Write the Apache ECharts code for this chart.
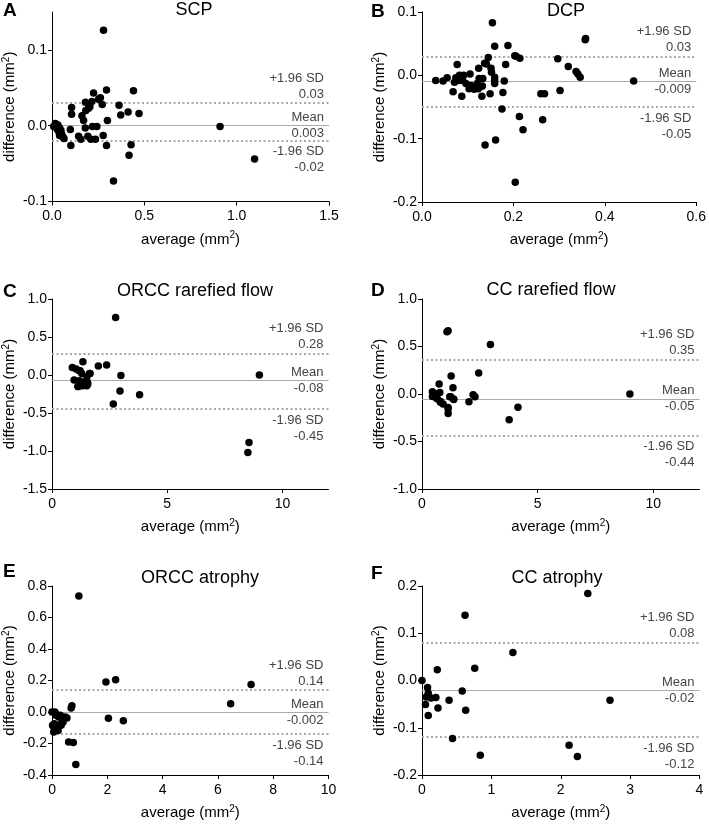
<!DOCTYPE html>
<html>
<head>
<meta charset="utf-8">
<script src="https://cdn.jsdelivr.net/npm/echarts@6/dist/echarts.min.js"></script>
<style>
html,body{margin:0;padding:0;background:#fff;}
#chart{width:709px;height:824px;}
</style>
</head>
<body>
<div id="chart"></div>
<script>
// ---------- DATA (average, difference) ----------
var pointsA = [[0.279,0.126],[0.295,0.047],[0.441,0.046],[0.225,0.043],[0.262,0.037],[0.252,0.035],[0.181,0.031],[0.216,0.032],[0.272,0.028],[0.363,0.027],[0.106,0.024],[0.205,0.025],[0.198,0.023],[0.183,0.020],[0.106,0.015],[0.412,0.018],[0.471,0.016],[0.372,0.014],[0.162,0.013],[0.171,0.007],[0.300,0.007],[0.219,-0.001],[0.243,-0.001],[0.180,-0.003],[0.099,-0.005],[0.018,0.003],[0.032,0.001],[0.009,-0.001],[0.041,-0.003],[0.029,-0.005],[0.048,-0.006],[0.038,-0.009],[0.052,-0.011],[0.059,-0.015],[0.041,-0.013],[0.065,-0.017],[0.144,-0.014],[0.156,-0.018],[0.194,-0.014],[0.210,-0.018],[0.235,-0.018],[0.277,-0.013],[0.295,-0.026],[0.102,-0.026],[0.428,-0.025],[0.417,-0.039],[0.333,-0.073],[0.910,-0.001],[1.097,-0.044]];
var pointsB = [[0.154,0.083],[0.159,0.046],[0.188,0.047],[0.145,0.028],[0.203,0.031],[0.206,0.030],[0.214,0.027],[0.297,0.026],[0.320,0.014],[0.337,0.006],[0.341,0.002],[0.346,-0.003],[0.357,0.056],[0.358,0.058],[0.463,-0.009],[0.077,0.017],[0.137,0.019],[0.141,0.018],[0.183,0.017],[0.124,0.011],[0.151,0.011],[0.152,0.005],[0.159,-0.003],[0.030,-0.008],[0.046,-0.009],[0.055,-0.004],[0.074,-0.004],[0.082,0.000],[0.091,0.000],[0.105,0.002],[0.071,-0.011],[0.082,-0.008],[0.089,-0.008],[0.096,-0.013],[0.107,-0.016],[0.114,-0.018],[0.121,-0.013],[0.128,-0.018],[0.133,-0.005],[0.125,-0.005],[0.103,-0.021],[0.114,-0.022],[0.123,-0.021],[0.132,-0.017],[0.068,-0.026],[0.087,-0.033],[0.131,-0.033],[0.149,-0.029],[0.177,-0.027],[0.159,-0.013],[0.180,-0.009],[0.159,-0.008],[0.260,-0.029],[0.268,-0.029],[0.302,-0.024],[0.175,-0.053],[0.213,-0.065],[0.264,-0.070],[0.221,-0.086],[0.138,-0.110],[0.161,-0.102],[0.204,-0.169]];
var pointsC = [[2.76,0.758],[9.0,0.0],[2.99,-0.005],[2.95,-0.21],[3.80,-0.26],[2.66,-0.38],[8.55,-0.887],[8.50,-1.02],[1.34,0.175],[2.01,0.12],[2.37,0.13],[0.88,0.10],[1.05,0.08],[1.22,0.057],[1.29,0.02],[1.63,0.02],[1.51,-0.022],[0.96,-0.066],[1.19,-0.075],[1.37,-0.097],[1.54,-0.097],[1.15,-0.15],[1.34,-0.14],[1.51,-0.14],[1.18,0.057],[1.65,0.02],[1.55,-0.12],[1.12,-0.15]];
var pointsD = [[1.08,0.656],[1.13,0.666],[2.96,0.522],[2.45,0.22],[1.26,0.19],[0.74,0.105],[1.34,0.066],[0.45,0.024],[0.59,0.0],[0.77,0.017],[1.20,-0.028],[1.37,-0.057],[2.21,-0.007],[2.29,-0.028],[2.03,-0.081],[0.62,-0.042],[0.80,-0.078],[0.91,-0.105],[1.13,-0.141],[4.15,-0.14],[3.77,-0.27],[8.99,0.0],[1.13,-0.204],[1.13,-0.158],[0.80,-0.088],[0.45,-0.025],[0.67,-0.053],[1.24,-0.028],[1.37,-0.053]];
var pointsE = [[0.97,0.737],[1.95,0.19],[2.30,0.205],[7.20,0.175],[6.46,0.053],[2.04,-0.040],[2.58,-0.055],[0.86,-0.334],[0.60,-0.19],[0.77,-0.194],[0.69,0.025],[0.72,0.04],[0.0,0.0],[0.10,0.0],[0.14,-0.021],[0.24,-0.032],[0.40,-0.063],[0.54,-0.038],[0.02,-0.084],[0.18,-0.084],[0.33,-0.084],[0.06,-0.127],[0.22,-0.118],[0.12,-0.006],[0.30,-0.021],[0.48,-0.032],[0.08,-0.074],[0.36,-0.063],[0.04,-0.089]];
var pointsF = [[2.39,0.184],[0.62,0.138],[1.31,0.059],[0.76,0.026],[0.22,0.023],[0.0,0.0],[0.08,-0.015],[0.09,-0.027],[0.58,-0.022],[2.71,-0.042],[0.39,-0.042],[0.63,-0.063],[0.23,-0.058],[0.05,-0.051],[0.09,-0.074],[0.44,-0.123],[0.84,-0.158],[2.12,-0.137],[2.24,-0.161],[0.06,-0.035],[0.13,-0.037],[0.20,-0.036]];

// Bland-Altman lines [upper, mean, lower] and their printed values
var linesA = [0.029, 0.003, -0.023];  var linesTextA = ['0.03', '0.003', '-0.02'];
var linesB = [0.030, -0.0085, -0.050]; var linesTextB = ['0.03', '-0.009', '-0.05'];
var linesC = [0.276, -0.075, -0.447]; var linesTextC = ['0.28', '-0.08', '-0.45'];
var linesD = [0.358, -0.049, -0.436]; var linesTextD = ['0.35', '-0.05', '-0.44'];
var linesE = [0.144, -0.002, -0.143]; var linesTextE = ['0.14', '-0.002', '-0.14'];
var linesF = [0.081, -0.020, -0.121]; var linesTextF = ['0.08', '-0.02', '-0.12'];

// Titles and panel letters
var titles = ['SCP', 'DCP', 'ORCC rarefied flow', 'CC rarefied flow', 'ORCC atrophy', 'CC atrophy'];
var letters = ['A', 'B', 'C', 'D', 'E', 'F'];

// Tick values
var xTicksA = [0, 0.5, 1.0, 1.5];   var yTicksA = [-0.1, 0, 0.1];
var xTicksB = [0, 0.2, 0.4, 0.6];   var yTicksB = [-0.2, -0.1, 0, 0.1];
var xTicksC = [0, 5, 10];           var yTicksC = [-1.5, -1.0, -0.5, 0, 0.5, 1.0];
var xTicksD = [0, 5, 10];           var yTicksD = [-1.0, -0.5, 0, 0.5, 1.0];
var xTicksE = [0, 2, 4, 6, 8, 10];  var yTicksE = [-0.4, -0.2, 0, 0.2, 0.4, 0.6, 0.8];
var xTicksF = [0, 1, 2, 3, 4];      var yTicksF = [-0.2, -0.1, 0, 0.1, 0.2];

// Axis ranges [min, max]
var xRangeA = [0, 1.5];  var yRangeA = [-0.1, 0.15];
var xRangeB = [0, 0.6];  var yRangeB = [-0.2, 0.1];
var xRangeC = [0, 12];   var yRangeC = [-1.5, 1.0];
var xRangeD = [0, 12];   var yRangeD = [-1.0, 1.0];
var xRangeE = [0, 10];   var yRangeE = [-0.4, 0.8];
var xRangeF = [0, 4];    var yRangeF = [-0.2, 0.2];

// ---------- LAYOUT ----------
var FONT = '"Liberation Sans", Arial, Helvetica, sans-serif';
var grids = [
  {left: 51, top: 12, width: 278, height: 189.5},
  {left: 422, top: 12, width: 277.5, height: 190},
  {left: 50, top: 299, width: 278.5, height: 190},
  {left: 422, top: 299, width: 277.5, height: 190},
  {left: 50, top: 586, width: 278.5, height: 189},
  {left: 422, top: 586, width: 277.5, height: 189}
];
var titlePos = [[194, 1], [566, 2], [195, 282], [551, 281], [200, 569], [557, 569]];
var letterPos = [[3, 1], [371, 2], [3, 282], [371, 281], [3, 562], [371, 564]];
var xDecimals = [1, 1, 0, 0, 0, 0];
var yDecimals = [1, 1, 1, 1, 1, 1];

var allPoints = [pointsA, pointsB, pointsC, pointsD, pointsE, pointsF];
var allLines = [linesA, linesB, linesC, linesD, linesE, linesF];
var allLinesText = [linesTextA, linesTextB, linesTextC, linesTextD, linesTextE, linesTextF];
var allXTicks = [xTicksA, xTicksB, xTicksC, xTicksD, xTicksE, xTicksF];
var allYTicks = [yTicksA, yTicksB, yTicksC, yTicksD, yTicksE, yTicksF];
var allXRange = [xRangeA, xRangeB, xRangeC, xRangeD, xRangeE, xRangeF];
var allYRange = [yRangeA, yRangeB, yRangeC, yRangeD, yRangeE, yRangeF];

var option = {
  backgroundColor: '#fff',
  animation: false,
  title: [], grid: [], xAxis: [], yAxis: [], series: []
};

var labelBase = {color: '#444', fontSize: 13, fontFamily: FONT, lineHeight: 16};
var dotted = {color: '#a8a8a8', width: 2, type: [2, 2.5]};
var solid = {color: '#aaaaaa', width: 1, type: 'solid'};
var hidden = {color: 'rgba(255,255,255,0)', width: 1, type: 'solid'};
var nameRich = {
  sup: {fontFamily: FONT, fontSize: 10, color: '#000', verticalAlign: 'top', lineHeight: 18}
};

for (var i = 0; i < 6; i++) {
  option.grid.push(grids[i]);
  option.title.push({
    text: titles[i], left: titlePos[i][0], top: titlePos[i][1], textAlign: 'center', padding: 0,
    textStyle: {fontFamily: FONT, fontSize: 18, fontWeight: 'normal', color: '#000'}
  });
  option.title.push({
    text: letters[i], left: letterPos[i][0], top: letterPos[i][1], padding: 0,
    textStyle: {fontFamily: FONT, fontSize: 19, fontWeight: 'bold', color: '#000'}
  });
  (function (i) {
    var axisCommon = {
      axisLine: {show: true, onZero: false, lineStyle: {color: '#000', width: 1}},
      axisTick: {show: true, length: 4, lineStyle: {color: '#000', width: 1}},
      splitLine: {show: false},
      nameLocation: 'middle',
      nameTextStyle: {fontFamily: FONT, fontSize: 15, color: '#000', lineHeight: 18, rich: nameRich}
    };
    option.xAxis.push(Object.assign({}, axisCommon, {
      type: 'value', gridIndex: i,
      min: allXRange[i][0], max: allXRange[i][1],
      name: 'average (mm{sup|2})', nameGap: 29,
      axisTick: Object.assign({}, axisCommon.axisTick, {customValues: allXTicks[i]}),
      axisLabel: {customValues: allXTicks[i], fontFamily: FONT, fontSize: 14, color: '#000', margin: 8,
        formatter: function (v) { return Number(v).toFixed(xDecimals[i]); }}
    }));
    option.yAxis.push(Object.assign({}, axisCommon, {
      type: 'value', gridIndex: i,
      min: allYRange[i][0], max: allYRange[i][1],
      name: 'difference (mm{sup|2})', nameGap: 28,
      axisTick: Object.assign({}, axisCommon.axisTick, {customValues: allYTicks[i]}),
      axisLabel: {customValues: allYTicks[i], fontFamily: FONT, fontSize: 14, color: '#000', margin: 5,
        formatter: function (v) { return Number(v).toFixed(yDecimals[i]); }}
    }));
    var L = allLines[i], T = allLinesText[i];
    option.series.push({
      type: 'scatter', xAxisIndex: i, yAxisIndex: i,
      data: allPoints[i], symbol: 'circle', symbolSize: 7.5,
      itemStyle: {color: '#000', opacity: 1}, z: 3,
      markLine: {
        silent: true, symbol: ['none', 'none'], z: 2,
        data: [
          {yAxis: L[0], lineStyle: dotted,
           label: Object.assign({}, labelBase, {position: 'insideEndTop', distance: [5, 1], formatter: '+1.96 SD\n' + T[0]})},
          {yAxis: L[1], lineStyle: solid,
           label: Object.assign({}, labelBase, {position: 'insideEndTop', distance: [5, 0], formatter: 'Mean'})},
          {yAxis: L[1], lineStyle: hidden,
           label: Object.assign({}, labelBase, {position: 'insideEndBottom', distance: [5, 0], formatter: T[1]})},
          {yAxis: L[2], lineStyle: dotted,
           label: Object.assign({}, labelBase, {position: 'insideEndBottom', distance: [5, 3], formatter: '-1.96 SD\n' + T[2]})}
        ]
      }
    });
  })(i);
}

var chart = echarts.init(document.getElementById('chart'), null, {renderer: 'canvas'});
chart.setOption(option);
</script>
</body>
</html>
